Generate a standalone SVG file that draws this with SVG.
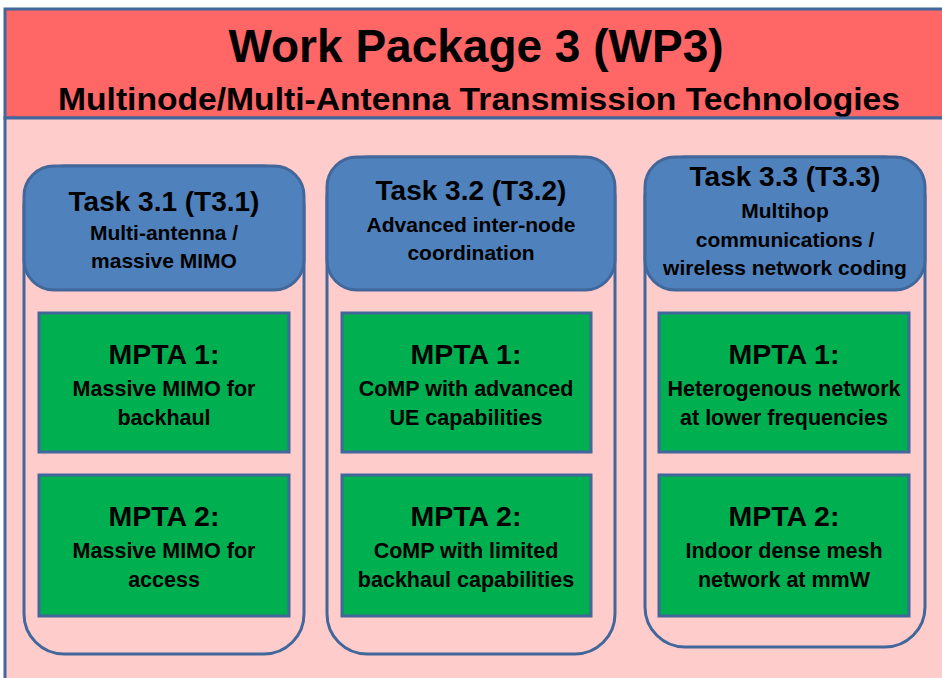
<svg xmlns="http://www.w3.org/2000/svg" width="942" height="678" viewBox="0 0 942 678">
<style>
.b{stroke:#41679b;stroke-width:3}
.t{font-family:"Liberation Sans",Arial,sans-serif;font-weight:bold;fill:#000;text-anchor:middle}
.h1{font-size:46px}
.h2{font-size:32px}
.th{font-size:28px}
.ts{font-size:21px}
.mh{font-size:28.5px}
.ms{font-size:21.5px}
.col{fill:#ffcccc}
.hd{fill:#4f81bd}
.gr{fill:#00b050}
</style>
<rect x="0" y="0" width="942" height="678" fill="#ffffff"/>
<g id="header">
<rect x="5" y="9" width="945" height="109" fill="#ff6666" class="b"/>
<text class="t h1" x="476" y="62">Work Package 3 (WP3)</text>
<text class="t h2" x="479" y="110" textLength="842" lengthAdjust="spacingAndGlyphs">Multinode/Multi-Antenna Transmission Technologies</text>
</g>
<g id="body">
<rect x="5" y="118" width="945" height="570" fill="#ffcccc" class="b"/>
</g>
<g id="task31">
<rect x="24" y="166" width="280" height="488" rx="40" class="b col"/>
<rect x="24" y="166" width="280" height="124" rx="30" class="b hd"/>
<text class="t th" x="164" y="211">Task 3.1 (T3.1)</text>
<text class="t ts" x="164" y="240">Multi-antenna /</text>
<text class="t ts" x="164" y="268">massive MIMO</text>
</g>
<g id="mpta31_1">
<rect x="39" y="313" width="250" height="139" class="b gr"/>
<text class="t mh" x="164" y="364">MPTA 1:</text>
<text class="t ms" x="164" y="396">Massive MIMO for</text>
<text class="t ms" x="164" y="425">backhaul</text>
</g>
<g id="mpta31_2">
<rect x="39" y="475" width="250" height="141" class="b gr"/>
<text class="t mh" x="164" y="526">MPTA 2:</text>
<text class="t ms" x="164" y="558">Massive MIMO for</text>
<text class="t ms" x="164" y="587">access</text>
</g>
<g id="task32">
<rect x="327" y="157" width="288" height="497" rx="40" class="b col"/>
<rect x="327" y="157" width="288" height="133" rx="30" class="b hd"/>
<text class="t th" x="471" y="200">Task 3.2 (T3.2)</text>
<text class="t ts" x="471" y="232">Advanced inter-node</text>
<text class="t ts" x="471" y="260">coordination</text>
</g>
<g id="mpta32_1">
<rect x="342" y="313" width="249" height="139" class="b gr"/>
<text class="t mh" x="466" y="364">MPTA 1:</text>
<text class="t ms" x="466" y="396">CoMP with advanced</text>
<text class="t ms" x="466" y="425">UE capabilities</text>
</g>
<g id="mpta32_2">
<rect x="342" y="475" width="249" height="141" class="b gr"/>
<text class="t mh" x="466" y="526">MPTA 2:</text>
<text class="t ms" x="466" y="558">CoMP with limited</text>
<text class="t ms" x="466" y="587">backhaul capabilities</text>
</g>
<g id="task33">
<rect x="645" y="157" width="280" height="490" rx="40" class="b col"/>
<rect x="645" y="157" width="280" height="133" rx="30" class="b hd"/>
<text class="t th" x="785" y="186">Task 3.3 (T3.3)</text>
<text class="t ts" x="785" y="218">Multihop</text>
<text class="t ts" x="785" y="247">communications /</text>
<text class="t ts" x="785" y="275">wireless network coding</text>
</g>
<g id="mpta33_1">
<rect x="659" y="313" width="250" height="139" class="b gr"/>
<text class="t mh" x="784" y="364">MPTA 1:</text>
<text class="t ms" x="784" y="396">Heterogenous network</text>
<text class="t ms" x="784" y="425">at lower frequencies</text>
</g>
<g id="mpta33_2">
<rect x="659" y="475" width="250" height="141" class="b gr"/>
<text class="t mh" x="784" y="526">MPTA 2:</text>
<text class="t ms" x="784" y="558">Indoor dense mesh</text>
<text class="t ms" x="784" y="587">network at mmW</text>
</g>
<g id="connectors"/>
</svg>
